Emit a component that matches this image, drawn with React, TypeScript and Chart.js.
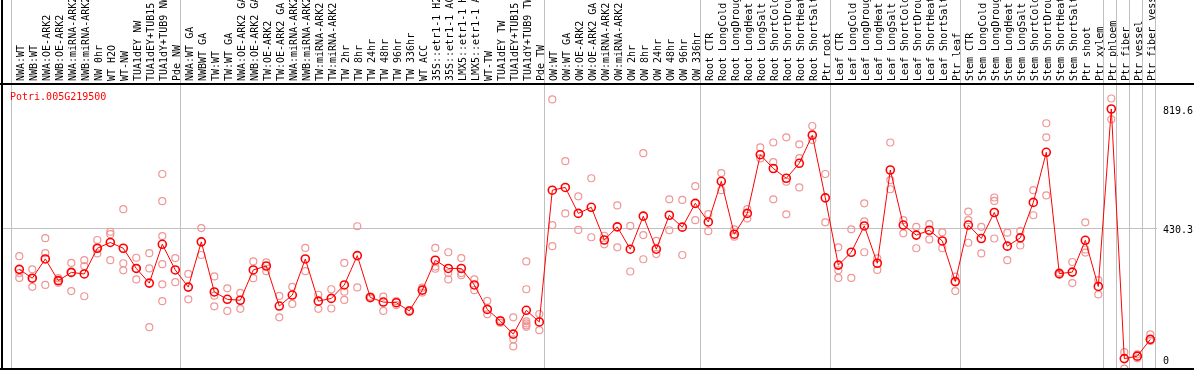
import React, { useEffect, useRef } from "react";
import { Chart, registerables } from "chart.js";

Chart.register(...registerables);

const TITLE = "Potri.005G219500";

const categories: string[] = [
  "NWA:WT", "NWB:WT", "NWA:OE-ARK2", "NWB:OE-ARK2", "NWA:miRNA-ARK2", "NWB:miRNA-ARK2",
  "NW 0hr", "WT H2O", "WT-NW", "TUA1dEY NW", "TUA1dEY+TUB15", "TUA1dY+TUB9 NW", "Pde NW",
  "NWA:WT GA", "NWBWT GA", "TW:WT", "TW:WT GA", "NWA:OE-ARK2 GA", "NWB:OE-ARK2 GA",
  "TW:OE-ARK2", "TW:OE-ARK2 GA", "NWA:miRNA-ARK2", "NWB:miRNA-ARK2", "TW:miRNA-ARK2",
  "TW:miRNA-ARK2", "TW 2hr", "TW 8hr", "TW 24hr", "TW 48hr", "TW 96hr", "TW 336hr",
  "WT ACC", "35S::etr1-1 H2O", "35S::etr1-1 ACC", "LMX5::etr1-1 H2O", "LMX5::etr1-1 ACC",
  "WT-TW", "TUA1dEY TW", "TUA1dEY+TUB15", "TUA1dY+TUB9 TW", "Pde TW",
  "OW:WT", "OW:WT GA", "OW:OE-ARK2", "OW:OE-ARK2 GA", "OW:miRNA-ARK2", "OW:miRNA-ARK2",
  "OW 2hr", "OW 8hr", "OW 24hr", "OW 48hr", "OW 96hr", "OW 336hr",
  "Root CTR", "Root LongCold", "Root LongDrought", "Root LongHeat", "Root LongSalt",
  "Root ShortCold", "Root ShortDrought", "Root ShortHeat", "Root ShortSalt", "Ptr root",
  "Leaf CTR", "Leaf LongCold", "Leaf LongDrought", "Leaf LongHeat", "Leaf LongSalt",
  "Leaf ShortCold", "Leaf ShortDrought", "Leaf ShortHeat", "Leaf ShortSalt", "Ptr leaf",
  "Stem CTR", "Stem LongCold", "Stem LongDrought", "Stem LongHeat", "Stem LongSalt",
  "Stem ShortCold", "Stem ShortDrought", "Stem ShortHeat", "Stem ShortSalt", "Ptr shoot",
  "Ptr xylem", "Ptr phloem", "Ptr fiber", "Ptr vessel", "Ptr fiber vessel",
];

const means: number[] = [
  295, 266, 329, 258, 285, 280, 364, 383, 364, 298, 250, 377, 293,
  237, 385, 221, 197, 194, 293, 306, 175, 211, 329, 191, 200, 244, 340, 203, 188, 186, 159,
  227, 325, 298, 298, 244, 164, 126, 83, 161, 123,
  554, 563, 478, 498, 391, 434, 361, 469, 361, 472, 433, 511,
  450, 583, 410, 478, 670, 625, 593, 642, 734, 529,
  309, 351, 437, 315, 620, 440, 407, 423, 388, 255,
  440, 396, 481, 371, 398, 514, 678, 281, 286, 390, 239,
  819.6, 3, 11, 66,
];

const replicates: number[][] = [
  [338, 283, 267], [295, 266, 238], [397, 348, 244], [266, 251, 258], [316, 224, 285],
  [325, 306, 207], [391, 347, 364], [418, 410, 325], [492, 315, 292], [333, 262, 298],
  [348, 298, 106], [607, 518, 404, 312, 246, 191], [332, 253],
  [280, 197], [430, 342], [272, 209, 174], [233, 159], [218, 166], [321, 266], [318, 289],
  [208, 138], [238, 182], [365, 289], [212, 166], [230, 167], [316, 222, 195], [436, 236],
  [206, 200], [206, 159], [191, 178], [162, 156], [235, 219], [365, 304, 297],
  [351, 283, 262], [332, 283, 276], [262, 227], [192, 148], [130, 120], [138, 66, 43],
  [321, 230, 125, 118, 112, 107], [149, 96],
  [851, 440, 371], [649, 478], [534, 424], [593, 400], [405, 377], [504, 367], [437, 288],
  [675, 407, 328], [388, 345], [524, 423], [522, 342], [567, 456],
  [476, 420], [610, 554], [426, 402], [492, 461], [694, 658], [710, 646, 524],
  [727, 582, 475], [704, 659, 563], [764, 718], [607, 449],
  [367, 292, 267], [426, 267], [511, 452, 351], [331, 293], [710, 587, 557], [456, 413],
  [434, 364], [443, 393], [416, 364], [271, 224],
  [484, 456, 382], [434, 347], [530, 519, 396], [415, 325], [420, 373], [554, 472],
  [773, 727, 537], [285, 277], [319, 250], [449, 360, 350], [260, 213],
  [854, 786], [24, -30], [17, 4], [82, 61],
];

// group boundaries (index of first category of each new group)
const groupBoundaries: number[] = [0, 13, 41, 53, 63, 73, 84, 85, 86, 87, 88];

const yTickValues: number[] = [0, 430.3, 819.6];

const W = 1194;
const H = 370;
const FONT = '"DejaVu Sans Mono", "Liberation Mono", monospace';

export default function App() {
  const ref = useRef<HTMLCanvasElement | null>(null);

  useEffect(() => {
    document.body.style.margin = "0";
    const canvas = ref.current;
    if (!canvas) return;

    const plotLeft = 2;
    const plotRight = 1157;
    // pixel geometry of the reference
    const step = 13; // px per category
    const firstPointPx = 19.3; // px of category 0
    const yGridPx = 228; // px of 430.3
    const yMaxPx = 109; // px of 819.6
    const yK = (yGridPx - yMaxPx) / (819.6 - 430.3); // px per unit
    const yZeroPx = yGridPx + 430.3 * yK;
    const boundaryOffset = (firstPointPx - 11) / step;

    const meanData = means.map((v, i) => ({ x: i, y: v }));
    const repData: { x: number; y: number }[] = [];
    replicates.forEach((arr, i) => arr.forEach((v) => repData.push({ x: i, y: v })));

    const framePlugin = {
      id: "frame",
      beforeDatasetsDraw(chart: any) {
        const c = chart.ctx;
        const xs = chart.scales.x;
        const area = chart.chartArea;
        c.save();
        c.strokeStyle = "#c0c0c0";
        c.lineWidth = 1;
        groupBoundaries.forEach((k) => {
          const px = Math.round(xs.getPixelForValue(k - boundaryOffset)) + 0.5;
          c.beginPath();
          c.moveTo(px, 0);
          c.lineTo(px, area.bottom);
          c.stroke();
        });
        c.restore();
      },
      afterDraw(chart: any) {
        const c = chart.ctx;
        c.save();
        c.fillStyle = "#000";
        c.fillRect(0, 83, W, 2);
        c.fillRect(0, 368, W, 2);
        c.fillRect(1, 0, 2, H);
        c.fillStyle = "#ff0000";
        c.font = "10px " + FONT;
        c.textBaseline = "alphabetic";
        c.textAlign = "left";
        c.fillText(TITLE, 10, 100);
        c.restore();
      },
    };

    const chart = new Chart(canvas, {
      type: "scatter",
      data: {
        datasets: [
          {
            type: "line",
            label: "mean",
            data: meanData,
            borderColor: "#ff0000",
            borderWidth: 1,
            pointRadius: 4,
            pointBorderWidth: 1.6,
            pointBorderColor: "#ff0000",
            pointBackgroundColor: "rgba(0,0,0,0)",
            fill: false,
            tension: 0,
          } as any,
          {
            type: "scatter",
            label: "replicates",
            data: repData,
            pointRadius: 3.5,
            pointBorderWidth: 1.2,
            pointBorderColor: "rgb(240,150,150)",
            pointBackgroundColor: "rgba(0,0,0,0)",
            showLine: false,
          } as any,
        ],
      },
      options: {
        animation: false,
        responsive: false,
        maintainAspectRatio: false,
        layout: { autoPadding: false, padding: { left: plotLeft, right: 0, top: 0, bottom: 1 } },
        plugins: {
          legend: { display: false },
          tooltip: { enabled: false },
          title: { display: false },
        },
        scales: {
          x: {
            type: "linear",
            position: "top",
            min: -1.33,
            max: 87.5,
            afterBuildTicks: (scale: any) => {
              scale.ticks = categories.map((_, i) => ({ value: i }));
            },
            afterFit: (scale: any) => {
              scale.height = 84;
              scale.paddingLeft = 0;
              scale.paddingRight = 0;
              scale.paddingTop = 0;
              scale.paddingBottom = 0;
            },
            ticks: {
              autoSkip: false,
              minRotation: 90,
              maxRotation: 90,
              padding: 3,
              labelOffset: 14.5,
              color: "#000",
              font: { family: FONT, size: 10 },
              callback: (_v: any, index: number) => categories[index],
            },
            grid: { display: false, drawTicks: false },
            border: { display: false },
          },
          y: {
            type: "linear",
            position: "right",
            min: -31,
            max: 901,
            afterBuildTicks: (scale: any) => {
              scale.ticks = yTickValues.map((v) => ({ value: v }));
            },
            afterFit: (scale: any) => {
              scale.width = W - plotRight;
              scale.paddingTop = 0;
              scale.paddingBottom = 0;
              scale.paddingLeft = 0;
              scale.paddingRight = 0;
            },
            ticks: {
              padding: 6,
              labelOffset: 2,
              color: "#000",
              font: { family: FONT, size: 10 },
              callback: (v: any) => String(v),
            },
            grid: {
              drawTicks: false,
              color: (ctx: any) =>
                ctx.tick && ctx.tick.value === 430.3 ? "#c0c0c0" : "rgba(0,0,0,0)",
            },
            border: { display: false },
          },
        },
      },
      plugins: [framePlugin],
    } as any);

    // align the scales to the reference pixel geometry using the actual chart area
    const a = chart.chartArea;
    const xs: any = chart.options.scales!.x;
    xs.min = (a.left - firstPointPx) / step;
    xs.max = (a.right - firstPointPx) / step;
    const ys: any = chart.options.scales!.y;
    ys.max = (yZeroPx - a.top) / yK;
    ys.min = (yZeroPx - a.bottom) / yK;
    chart.update();

    return () => chart.destroy();
  }, []);

  return (
    <div style={{ width: W, height: H }}>
      <canvas ref={ref} width={W} height={H} style={{ display: "block" }} />
    </div>
  );
}
